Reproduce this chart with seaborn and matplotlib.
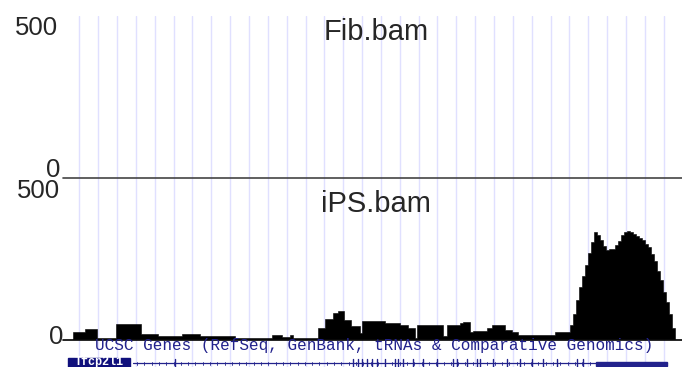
import numpy as np
import pandas as pd
import matplotlib
matplotlib.use("Agg")
import matplotlib.pyplot as plt
from matplotlib.patches import Rectangle
import seaborn as sns

# ---------------- data ----------------
track_names = ["Fib.bam", "iPS.bam"]
y_max = 500
y_tick_labels = ["500", "0"]

# coverage segment boundaries (position along the browser window) and read depth
ips_edges = [9.7, 22, 33.7, 53, 78, 95, 118.7, 137, 172, 208.7,
             218.7, 227, 230, 255, 262, 270, 275, 281, 288, 297,
             298.7, 322, 337, 345, 352, 354, 380, 384, 397, 400,
             407, 410, 424, 429, 442, 449, 455, 470, 484, 492,
             507, 510, 513, 516, 519, 522, 525, 528, 531, 534,
             537, 540, 543, 546, 549, 552, 555, 558, 561, 564,
             567, 570, 573, 576, 579, 582, 585, 588, 591, 594,
             597, 600, 603, 606, 609, 612]
ips_depth = [25, 32, 6, 50, 16, 11, 16, 10, 6, 13,
             7, 13, 6, 35, 63, 82, 88, 61, 41, 19,
             57, 51, 47, 37, 5, 46, 10, 46, 53, 55,
             25, 28, 37, 44, 30, 22, 13, 15, 13, 24,
             45, 80, 125, 165, 200, 235, 270, 305, 338, 328,
             312, 292, 280, 283, 285, 295, 310, 328, 336, 340,
             338, 332, 326, 318, 312, 300, 290, 268, 245, 215,
             185, 150, 118, 80, 35]
fib_depth = [0] * len(ips_depth)

gene_track_title = "UCSC Genes (RefSeq, GenBank, tRNAs & Comparative Genomics)"
gene_name = "Tfcp2l1"
gene_start, gene_end = 70, 604
thick_start = 533
exon_pos = [112, 290, 295, 299, 304, 309, 314, 322, 332, 335, 340, 350, 360,
            374, 390, 394, 404, 414, 417, 430, 444, 457, 469, 480, 494, 514, 520]

# ---------------- layout ----------------
W, H = 682, 367
XL = (0, 619)
NAVY = "#22228c"
GRID = "#e0e0ff"

sns.set_theme(style="white")
plt.rcParams["font.family"] = ["Liberation Sans", "DejaVu Sans"]

fig = plt.figure(figsize=(W / 100, H / 100), dpi=100)
fig.patch.set_facecolor("white")


def box(x0, y0, x1, y1):
    return [x0 / W, 1 - y1 / H, (x1 - x0) / W, (y1 - y0) / H]


def px(x, y):
    return x / W, 1 - y / H


# background grid lines
bg = fig.add_axes(box(63, 16, 682, 367))
bg.set_xlim(XL)
bg.set_ylim(0, 1)
bg.axis("off")
for gx in 16.3 + 18.85 * np.arange(32):
    bg.axvline(gx, color=GRID, lw=1.0, zorder=0)

track_boxes = [(63, 16, 682, 178), (63, 180, 682, 339.5)]
depths = [fib_depth, ips_depth]
base_colors = ["#444444", "black"]
for (b, d, bc) in zip(track_boxes, depths, base_colors):
    ax = fig.add_axes(box(*b))
    ax.patch.set_alpha(0)
    df = pd.DataFrame({"pos": ips_edges[:-1], "depth": d})
    if sum(d) > 0:
        sns.histplot(data=df, x="pos", weights="depth", bins=ips_edges,
                     element="step", fill=True, color="black", alpha=1,
                     edgecolor="black", linewidth=0.4, ax=ax)
    ax.axhline(0, color=bc, lw=1.2, clip_on=False)
    ax.set_xlim(XL)
    ax.set_ylim(0, y_max)
    ax.axis("off")

# track labels
fs_num = 18.5
fig.text(*px(58, 35), y_tick_labels[0], ha="right", va="baseline", fontsize=fs_num)
fig.text(*px(60, 176.5), y_tick_labels[1], ha="right", va="baseline", fontsize=fs_num)
fig.text(*px(60, 198), y_tick_labels[0], ha="right", va="baseline", fontsize=fs_num)
fig.text(*px(63, 344), y_tick_labels[1], ha="right", va="baseline", fontsize=fs_num)
fig.text(*px(376, 40), track_names[0], ha="center", va="baseline", fontsize=21)
fig.text(*px(376, 211.5), track_names[1], ha="center", va="baseline", fontsize=21)

# gene track
fig.text(*px(374, 350), gene_track_title, ha="center", va="baseline",
         fontsize=11.5, color=NAVY, family="Liberation Mono")

gax = fig.add_axes(box(63, 340, 682, 367))
gax.patch.set_alpha(0)
gax.set_xlim(XL)
gax.set_ylim(27, 0)
gax.axis("off")
gax.add_patch(Rectangle((5, 17.5), 62, 12, color="#10107c", clip_on=True))
gax.text(36, 22.3, gene_name, color="white", ha="center", va="center",
         fontsize=8.5, family="Liberation Mono", fontweight="bold")
gax.plot([gene_start, gene_end], [23, 23], color=NAVY, lw=0.9)
for t in np.arange(gene_start + 4, thick_start, 7.3):
    gax.plot([t, t], [21.5, 24.5], color=NAVY, lw=0.6)
for e in exon_pos:
    gax.plot([e, e], [19, 27], color=NAVY, lw=1.0)
gax.add_patch(Rectangle((thick_start, 21.5), gene_end - thick_start, 4.5, color=NAVY))

fig.savefig("out.png", dpi=100)
